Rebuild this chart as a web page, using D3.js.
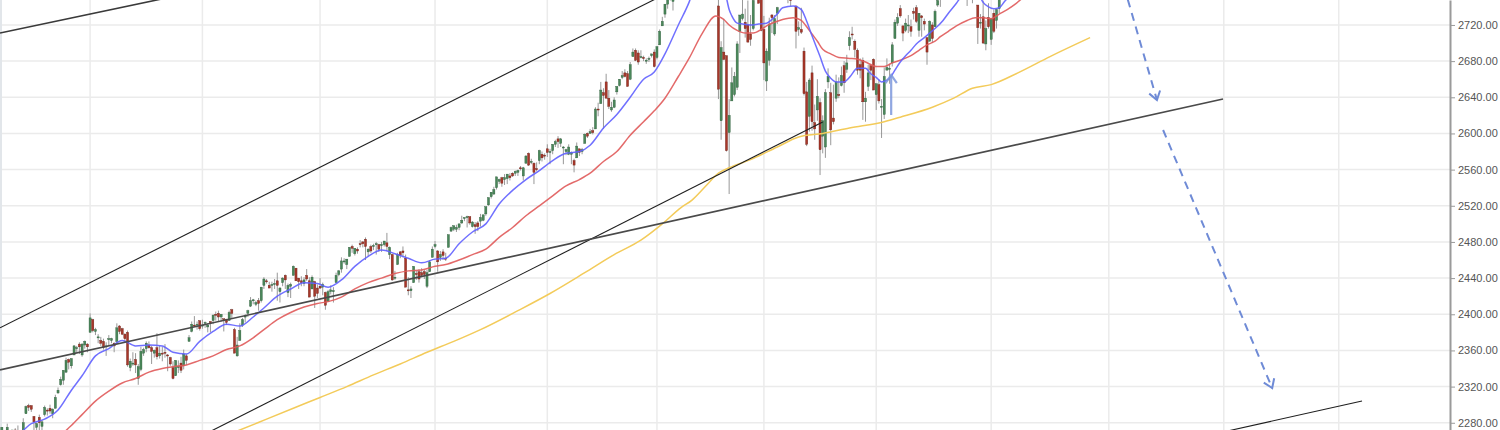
<!DOCTYPE html>
<html>
<head>
<meta charset="utf-8">
<script src="https://cdn.jsdelivr.net/npm/d3@7"></script>
<style>
  body { margin: 0; background: #fff; }
  svg { display: block; }
</style>
</head>
<body>
<script>
// Daily candles [open, high, low, close], one small array per month.
// Index 0 is 1 March 2017; the first candle (9 Jan 2017) sits at index -35.
var jan17 = [[2273,2275,2268,2269],[2269,2280,2266,2269],[2268,2275,2261,2275],[2271,2271,2255,2270],[2272,2279,2271,2275],[2269,2272,2262,2268],[2269,2272,2264,2272],[2272,2274,2258,2264],[2269,2277,2265,2271],[2267,2271,2257,2265],[2268,2285,2266,2280],[2290,2299,2290,2298],[2299,2301,2293,2297],[2299,2299,2292,2295],[2287,2287,2268,2281],[2275,2280,2267,2279]];
var feb17 = [[2286,2289,2272,2280],[2276,2283,2271,2281],[2289,2299,2287,2297],[2294,2296,2288,2293],[2296,2300,2290,2293],[2290,2296,2285,2295],[2296,2311,2296,2308],[2313,2319,2312,2316],[2322,2331,2321,2328],[2327,2338,2322,2338],[2336,2352,2335,2349],[2350,2351,2339,2347],[2343,2351,2340,2351],[2355,2366,2355,2365],[2362,2365,2358,2363],[2367,2369,2356,2364],[2355,2368,2353,2367],[2366,2371,2362,2370],[2367,2368,2358,2364]];
var mar17 = [[2380,2401,2380,2396],[2394,2395,2380,2382],[2381,2385,2377,2383],[2375,2378,2368,2375],[2371,2375,2365,2368],[2370,2373,2361,2363],[2364,2369,2354,2365],[2372,2377,2365,2373],[2371,2374,2368,2373],[2368,2369,2358,2365],[2370,2390,2367,2385],[2387,2388,2378,2381],[2384,2385,2377,2378],[2378,2379,2369,2373],[2380,2382,2342,2344],[2341,2351,2337,2348],[2346,2358,2343,2346],[2350,2357,2335,2344],[2329,2345,2322,2342],[2339,2364,2337,2359],[2357,2363,2354,2361],[2362,2370,2358,2368],[2366,2370,2362,2363]];
var apr17 = [[2363,2365,2345,2359],[2357,2361,2352,2360],[2363,2379,2350,2353],[2354,2365,2351,2357],[2357,2364,2348,2356],[2358,2367,2352,2357],[2355,2356,2337,2354],[2352,2353,2343,2345],[2341,2348,2328,2329],[2332,2349,2332,2349],[2342,2349,2335,2342],[2346,2353,2335,2338],[2343,2361,2339,2356],[2354,2356,2344,2349],[2370,2377,2370,2374],[2381,2392,2380,2389],[2388,2398,2386,2387],[2389,2392,2383,2389],[2393,2393,2382,2384]];
var may17 = [[2388,2394,2384,2388],[2391,2392,2385,2391],[2386,2390,2380,2388],[2392,2392,2380,2390],[2393,2400,2389,2399],[2400,2403,2393,2399],[2401,2404,2392,2397],[2397,2400,2392,2400],[2395,2395,2381,2394],[2394,2395,2388,2391],[2393,2404,2393,2402],[2405,2406,2395,2401],[2383,2385,2357,2357],[2354,2375,2353,2366],[2371,2390,2371,2382],[2388,2396,2386,2394],[2397,2400,2391,2398],[2401,2405,2397,2404],[2409,2419,2408,2415],[2415,2417,2411,2416],[2411,2415,2409,2413],[2415,2418,2404,2412]];
var jun17 = [[2415,2430,2413,2430],[2432,2441,2428,2439],[2437,2439,2434,2436],[2432,2436,2429,2429],[2432,2436,2425,2433],[2434,2439,2428,2434],[2437,2446,2415,2432],[2425,2430,2413,2429],[2435,2441,2431,2440],[2443,2444,2428,2438],[2424,2434,2419,2432],[2431,2435,2418,2433],[2443,2454,2443,2453],[2451,2451,2437,2437],[2440,2440,2428,2436],[2437,2442,2431,2435],[2434,2441,2431,2438],[2443,2450,2437,2439],[2437,2441,2419,2419],[2428,2443,2428,2441],[2436,2437,2407,2420],[2429,2433,2418,2423]];
var jul17 = [[2431,2440,2428,2429],[2430,2435,2421,2433],[2424,2425,2405,2410],[2414,2427,2414,2425],[2425,2432,2422,2427],[2426,2430,2413,2426],[2435,2446,2435,2443],[2444,2449,2442,2448],[2450,2463,2446,2459],[2459,2462,2456,2459],[2455,2461,2450,2461],[2464,2474,2464,2474],[2475,2477,2468,2473],[2467,2473,2465,2473],[2472,2474,2467,2470],[2478,2482,2474,2477],[2480,2481,2474,2478],[2483,2485,2460,2475],[2469,2473,2464,2472],[2475,2477,2468,2470]];
var aug17 = [[2475,2478,2471,2476],[2478,2480,2466,2478],[2477,2478,2469,2472],[2476,2480,2469,2477],[2477,2481,2475,2481],[2479,2490,2470,2475],[2466,2475,2461,2474],[2466,2467,2437,2438],[2441,2448,2438,2441],[2455,2468,2455,2466],[2469,2470,2462,2465],[2470,2475,2463,2468],[2462,2466,2430,2430],[2427,2441,2421,2426],[2426,2431,2418,2428],[2435,2453,2435,2453],[2445,2448,2438,2444],[2447,2450,2435,2439],[2446,2451,2441,2443],[2447,2449,2439,2444],[2431,2449,2429,2446],[2447,2460,2447,2458],[2463,2475,2463,2472]];
var sep17 = [[2475,2481,2473,2477],[2470,2471,2447,2458],[2463,2470,2459,2466],[2469,2472,2460,2465],[2462,2468,2459,2461],[2474,2488,2474,2488],[2492,2497,2491,2496],[2494,2498,2492,2498],[2494,2499,2491,2496],[2496,2500,2493,2500],[2501,2509,2500,2504],[2506,2507,2503,2507],[2507,2509,2496,2508],[2508,2508,2499,2501],[2497,2503,2496,2502],[2499,2502,2489,2497],[2501,2503,2492,2497],[2503,2511,2497,2507],[2504,2510,2503,2510],[2511,2519,2509,2519]];
var oct17 = [[2521,2529,2520,2529],[2530,2535,2528,2535],[2533,2541,2532,2538],[2540,2552,2538,2552],[2547,2550,2544,2549],[2551,2552,2541,2545],[2549,2555,2543,2551],[2550,2555,2544,2555],[2553,2556,2548,2551],[2556,2557,2552,2553],[2556,2559,2553,2558],[2557,2560,2553,2559],[2562,2564,2559,2561],[2553,2563,2548,2562],[2567,2576,2567,2575],[2578,2579,2564,2565],[2569,2572,2566,2569],[2567,2568,2544,2557],[2561,2568,2558,2560],[2570,2582,2566,2581],[2577,2580,2569,2573],[2576,2578,2571,2575]];
var nov17 = [[2583,2588,2574,2579],[2579,2583,2566,2580],[2581,2588,2577,2588],[2588,2593,2585,2591],[2594,2597,2584,2591],[2589,2595,2585,2594],[2584,2586,2566,2585],[2580,2583,2576,2582],[2577,2588,2576,2585],[2577,2580,2566,2579],[2570,2572,2557,2565],[2573,2590,2573,2586],[2583,2583,2575,2579],[2580,2584,2577,2582],[2589,2600,2589,2599],[2600,2601,2595,2597],[2600,2605,2600,2602],[2603,2607,2599,2601],[2605,2629,2605,2627],[2627,2634,2619,2626],[2633,2657,2633,2648]];
var dec17 = [[2645,2650,2605,2642],[2657,2666,2639,2639],[2639,2648,2627,2630],[2626,2635,2624,2629],[2629,2640,2628,2637],[2646,2652,2643,2652],[2653,2660,2652,2660],[2662,2669,2660,2664],[2667,2671,2662,2663],[2666,2669,2652,2652],[2660,2679,2659,2676],[2685,2694,2685,2690],[2692,2694,2680,2681],[2689,2692,2676,2679],[2684,2692,2683,2685],[2684,2686,2680,2683],[2680,2683,2677,2681],[2683,2685,2679,2683],[2686,2688,2684,2688],[2690,2693,2673,2674]];
var jan18 = [[2684,2696,2682,2696],[2698,2715,2698,2713],[2719,2729,2719,2724],[2732,2743,2728,2743],[2743,2749,2738,2748],[2752,2759,2747,2751],[2746,2751,2736,2748],[2752,2768,2752,2768],[2771,2787,2770,2786],[2798,2807,2762,2776],[2784,2807,2779,2803],[2802,2805,2792,2798],[2802,2810,2798,2810],[2810,2833,2808,2833],[2835,2842,2831,2839],[2846,2852,2825,2837],[2846,2849,2828,2839],[2848,2873,2845,2873],[2867,2870,2852,2854],[2833,2838,2818,2822],[2833,2840,2817,2824]];
var feb18 = [[2817,2836,2812,2822],[2808,2809,2759,2762],[2741,2763,2638,2649],[2614,2702,2593,2695],[2690,2727,2681,2682],[2686,2686,2580,2581],[2601,2638,2533,2620],[2636,2673,2636,2656],[2643,2668,2641,2663],[2651,2702,2648,2699],[2713,2731,2689,2731],[2727,2755,2725,2732],[2723,2738,2706,2716],[2720,2747,2701,2701],[2710,2731,2697,2704],[2716,2748,2714,2747],[2757,2780,2757,2780],[2781,2790,2744,2744],[2754,2761,2713,2714]];
var mar18 = [[2715,2730,2659,2678],[2658,2694,2647,2691],[2681,2728,2675,2721],[2731,2732,2711,2728],[2710,2731,2708,2727],[2733,2740,2721,2739],[2752,2787,2752,2787],[2791,2797,2780,2783],[2792,2801,2758,2765],[2774,2778,2744,2749],[2754,2763,2741,2747],[2750,2761,2749,2752],[2741,2741,2694,2713],[2715,2724,2708,2717],[2715,2739,2710,2712],[2691,2695,2642,2644],[2646,2657,2586,2588],[2619,2661,2602,2659],[2667,2675,2603,2613],[2612,2632,2593,2605],[2626,2660,2614,2641]];
var apr18 = [[2634,2639,2554,2582],[2597,2620,2578,2614],[2585,2649,2573,2645],[2657,2672,2650,2663],[2645,2656,2587,2604],[2617,2654,2610,2613],[2639,2665,2635,2657],[2643,2662,2639,2642],[2653,2674,2652,2664],[2675,2680,2645,2656],[2671,2687,2667,2678],[2697,2713,2692,2706],[2710,2718,2704,2709],[2702,2704,2684,2693],[2692,2694,2665,2670],[2676,2683,2661,2670],[2681,2684,2615,2635],[2635,2646,2613,2639],[2652,2676,2647,2667],[2675,2677,2659,2670],[2682,2683,2648,2648]];
var may18 = [[2643,2655,2626,2655],[2654,2660,2633,2636],[2629,2638,2595,2630],[2621,2673,2616,2663],[2670,2683,2670,2673],[2671,2677,2655,2672],[2678,2701,2674,2698],[2705,2726,2705,2723],[2722,2733,2719,2728],[2738,2742,2728,2730],[2719,2719,2702,2711],[2714,2727,2712,2722],[2719,2731,2711,2720],[2718,2726,2707,2713],[2735,2739,2726,2733],[2739,2742,2722,2724],[2714,2733,2707,2733],[2730,2731,2707,2728],[2724,2727,2714,2721],[2706,2706,2676,2690],[2702,2725,2702,2724],[2720,2723,2700,2705]];
var jun18 = [[2718,2737,2718,2735],[2742,2749,2740,2747],[2749,2752,2740,2749],[2754,2772,2749,2772],[2774,2779,2760,2770],[2765,2779,2763,2779],[2781,2790,2780,2782],[2785,2791,2781,2787],[2788,2792,2775,2776],[2784,2789,2777,2782],[2778,2780,2758,2780],[2766,2775,2758,2774],[2752,2765,2741,2763],[2770,2774,2763,2767],[2769,2769,2744,2750],[2760,2765,2753,2755],[2742,2742,2699,2717],[2722,2732,2716,2723],[2729,2747,2699,2700],[2699,2725,2692,2716],[2728,2744,2716,2718]];
var jul18 = [[2704,2727,2698,2727],[2733,2737,2711,2713],[2725,2738,2716,2737],[2738,2764,2733,2760],[2765,2784,2765,2784],[2789,2796,2787,2793],[2779,2785,2770,2775],[2783,2799,2783,2798],[2797,2805,2793,2801]];
var months = [jan17, feb17, mar17, apr17, may17, jun17, jul17, aug17, sep17, oct17, nov17, dec17,
              jan18, feb18, mar18, apr18, may18, jun18, jul18];
var firstIndex = -35;

// Indicator lines, [bar index, price]
var ema20 = [[-31,2267],[-27,2268],[-22,2279],[-17,2284],[-12,2294],[-7,2316],[-3,2332],[2,2354],[7,2362],[12,2371],[17,2365],[22,2366],[27,2365],[31,2358],[36,2356],[41,2370],[46,2381],[51,2389],[56,2387],[61,2397],[65,2407],[70,2420],[75,2428],[80,2435],[85,2434],[89,2430],[94,2438],[99,2453],[104,2464],[109,2471],[114,2467],[119,2462],[124,2457],[129,2461],[133,2462],[138,2478],[143,2491],[148,2500],[153,2522],[158,2537],[163,2549],[168,2559],[173,2570],[178,2578],[183,2580],[187,2587],[192,2606],[197,2621],[202,2640],[207,2660],[211,2668],[215,2688],[220,2720],[224,2745],[229,2788],[234,2800],[236,2777],[238,2750],[239,2737],[240,2730],[242,2722],[244,2721],[247,2720],[250,2721],[253,2722],[255,2726],[257,2732],[259,2739],[263,2741],[266,2737],[268,2724],[270,2708],[273,2685],[275,2669],[277,2661],[279,2657],[282,2657],[284,2662],[287,2672],[290,2672],[292,2666],[294,2662],[296,2657],[299,2661],[301,2670],[303,2679],[305,2686],[307,2692],[309,2699],[312,2706],[314,2711],[316,2716],[319,2725],[321,2733],[324,2744],[326,2752],[329,2756],[331,2755],[333,2750],[334,2745],[336,2740],[338,2738],[340,2739],[342,2746],[344,2752]];
var ema50 = [[-31,2238],[-27,2242],[-22,2250],[-17,2256],[-12,2264],[-7,2277],[-3,2289],[2,2304],[7,2315],[12,2324],[17,2329],[22,2336],[27,2340],[31,2342],[36,2344],[41,2349],[46,2354],[51,2361],[56,2365],[61,2374],[65,2383],[70,2394],[75,2402],[80,2408],[85,2412],[89,2414],[94,2419],[99,2428],[104,2435],[109,2440],[114,2445],[119,2448],[124,2449],[129,2453],[133,2455],[138,2460],[143,2466],[148,2472],[153,2485],[158,2496],[163,2509],[168,2520],[173,2531],[178,2542],[183,2549],[187,2556],[192,2569],[197,2580],[202,2598],[207,2613],[211,2625],[215,2639],[220,2663],[224,2683],[229,2711],[234,2730],[237,2726],[239,2720],[242,2714],[245,2711],[248,2711],[251,2715],[253,2719],[256,2723],[259,2726],[263,2728],[266,2725],[268,2718],[270,2710],[272,2702],[274,2693],[277,2688],[280,2684],[284,2683],[287,2682],[290,2679],[294,2674],[297,2674],[300,2678],[303,2681],[307,2686],[310,2692],[313,2698],[316,2702],[318,2707],[321,2713],[324,2719],[328,2725],[331,2728],[334,2728],[337,2727],[340,2732],[343,2737],[346,2743],[348,2748],[350,2752]];
var sma200 = [[50,2265],[56,2272],[66,2284],[76,2296],[86,2308],[96,2320],[106,2333],[116,2345],[126,2358],[136,2370],[146,2383],[160,2404],[172,2423],[185,2446],[196,2466],[206,2482],[214,2500],[221,2518],[225,2526],[230,2541],[235,2556],[239,2562],[247,2571],[257,2585],[265,2596],[274,2600],[284,2606],[297,2613],[303,2618],[315,2629],[323,2639],[330,2650],[337,2654],[347,2667],[359,2685],[374,2706]];

// Drawn trend lines and arrows, [bar index, price]
var trendTop = [[-33.7,2711],[40,2757]];
var channelUpper = [[-33.7,2385],[215,2754]];
var channelLower = [[40,2263],[274,2612.7]];
var supportLine = [[-33.7,2338.4],[423.7,2638.1]];
var supportLower = [[420,2267.3],[475.7,2304.1]];
var arrowDown1 = [[388.1,2748],[399,2637]];
var arrowDown2 = [[401.3,2603.8],[442.1,2318.4]];
var arrowUp = [[299.6,2620.4],[299.6,2664.7]];

// Axis
var priceTicks = [2280, 2320, 2360, 2400, 2440, 2480, 2520, 2560, 2600, 2640, 2680, 2720];
var gridBars = [0, 42, 86, 129, 171, 212, 252, 294, 337, 381, 424, 467];

var width = 1500, height = 430, plotRight = 1450;

var x = d3.scaleLinear().domain([-33.7, 508.6]).range([0, plotRight]);
var y = d3.scaleLinear().domain([2272, 2747.6]).range([height, 0]);

var candles = [];
months.forEach(function (m) {
  m.forEach(function (d) {
    candles.push({ i: firstIndex + candles.length, o: d[0], h: d[1], l: d[2], c: d[3] });
  });
});

var svg = d3.select("body").append("svg")
  .attr("width", width)
  .attr("height", height);

svg.append("rect").attr("width", width).attr("height", height).attr("fill", "#fff");

svg.append("defs").append("clipPath").attr("id", "plot")
  .append("rect").attr("x", 0).attr("y", 0).attr("width", plotRight).attr("height", height);

// grid
var grid = svg.append("g");
grid.selectAll(".hg").data(priceTicks).enter().append("line")
  .attr("x1", 0).attr("x2", plotRight)
  .attr("y1", function (d) { return y(d); }).attr("y2", function (d) { return y(d); })
  .attr("stroke", "#ebebeb").attr("stroke-width", 1.5);
grid.selectAll(".vg").data(gridBars).enter().append("line")
  .attr("x1", function (d) { return x(d); }).attr("x2", function (d) { return x(d); })
  .attr("y1", 0).attr("y2", height)
  .attr("stroke", "#ebebeb").attr("stroke-width", 1.5);
// thin frame on the left edge
grid.append("line").attr("x1", 1).attr("x2", 1).attr("y1", 0).attr("y2", height)
  .attr("stroke", "#e2e6ea").attr("stroke-width", 2);

var plot = svg.append("g").attr("clip-path", "url(#plot)");

// candles: wicks then bodies
var bodyW = 2.1;
plot.append("g").selectAll("line").data(candles).enter().append("line")
  .attr("x1", function (d) { return x(d.i); }).attr("x2", function (d) { return x(d.i); })
  .attr("y1", function (d) { return y(d.h); }).attr("y2", function (d) { return y(d.l); })
  .attr("stroke", "#8c8c8c").attr("stroke-width", 0.9);
plot.append("g").selectAll("rect").data(candles).enter().append("rect")
  .attr("x", function (d) { return x(d.i) - bodyW / 2; })
  .attr("width", bodyW)
  .attr("y", function (d) { return y(Math.max(d.o, d.c)); })
  .attr("height", function (d) { return Math.max(1, Math.abs(y(d.o) - y(d.c))); })
  .attr("fill", function (d) { return d.c >= d.o ? "#4a875a" : "#a8372a"; })
  .attr("stroke", function (d) { return d.c >= d.o ? "#2f5f3c" : "#6e2015"; })
  .attr("stroke-width", 0.4);

// moving averages
var maLine = d3.line()
  .x(function (d) { return x(d[0]); })
  .y(function (d) { return y(d[1]); })
  .curve(d3.curveMonotoneX);

plot.append("path").datum(sma200).attr("d", maLine)
  .attr("fill", "none").attr("stroke", "#f3cb5a").attr("stroke-width", 1.5);
plot.append("path").datum(ema50).attr("d", maLine)
  .attr("fill", "none").attr("stroke", "#e05a5a").attr("stroke-width", 1.5).attr("stroke-opacity", 0.9);
plot.append("path").datum(ema20).attr("d", maLine)
  .attr("fill", "none").attr("stroke", "#6060ff").attr("stroke-width", 1.5).attr("stroke-opacity", 0.9);

// trend lines
var straight = d3.line().x(function (d) { return x(d[0]); }).y(function (d) { return y(d[1]); });
[[trendTop, "#3a3a3a", 1.6], [channelUpper, "#1e1e1e", 1.1], [channelLower, "#1e1e1e", 1.1],
 [supportLine, "#4a4a4a", 1.7], [supportLower, "#1e1e1e", 1.1]].forEach(function (t) {
  plot.append("path").datum(t[0]).attr("d", straight)
    .attr("fill", "none").attr("stroke", t[1]).attr("stroke-width", t[2]);
});

// arrows
function arrowHead(pts, len) {
  var x1 = x(pts[0][0]), y1 = y(pts[0][1]), x2 = x(pts[1][0]), y2 = y(pts[1][1]);
  var a = Math.atan2(y1 - y2, x1 - x2), s = 0.6;
  return "M" + (x2 + len * Math.cos(a + s)) + "," + (y2 + len * Math.sin(a + s)) +
         "L" + x2 + "," + y2 +
         "L" + (x2 + len * Math.cos(a - s)) + "," + (y2 + len * Math.sin(a - s));
}
var arrowColor = "#6f8bd6";
[arrowDown1, arrowDown2].forEach(function (a) {
  plot.append("path").datum(a).attr("d", straight)
    .attr("fill", "none").attr("stroke", arrowColor).attr("stroke-width", 2)
    .attr("stroke-dasharray", "8,6");
  plot.append("path").attr("d", arrowHead(a, 10))
    .attr("fill", "none").attr("stroke", arrowColor).attr("stroke-width", 2);
});
plot.append("path").datum(arrowUp).attr("d", straight)
  .attr("fill", "none").attr("stroke", "#7d98dc").attr("stroke-width", 2.2).attr("stroke-opacity", 0.85);
plot.append("path").attr("d", arrowHead(arrowUp, 10))
  .attr("fill", "none").attr("stroke", "#7d98dc").attr("stroke-width", 2.2).attr("stroke-opacity", 0.85);

// right price axis
var axis = svg.append("g")
  .attr("transform", "translate(" + plotRight + ",0)")
  .call(d3.axisRight(y).tickValues(priceTicks).tickFormat(d3.format(".2f")).tickSize(5).tickSizeOuter(0).tickPadding(3));
axis.select(".domain").attr("stroke", "#9a9a9a").attr("stroke-width", 2);
axis.selectAll(".tick line").attr("stroke", "#9a9a9a");
axis.selectAll(".tick text")
  .attr("fill", "#555")
  .style("font-family", "'Liberation Sans', Arial, sans-serif")
  .style("font-size", "11px");
</script>
</body>
</html>
